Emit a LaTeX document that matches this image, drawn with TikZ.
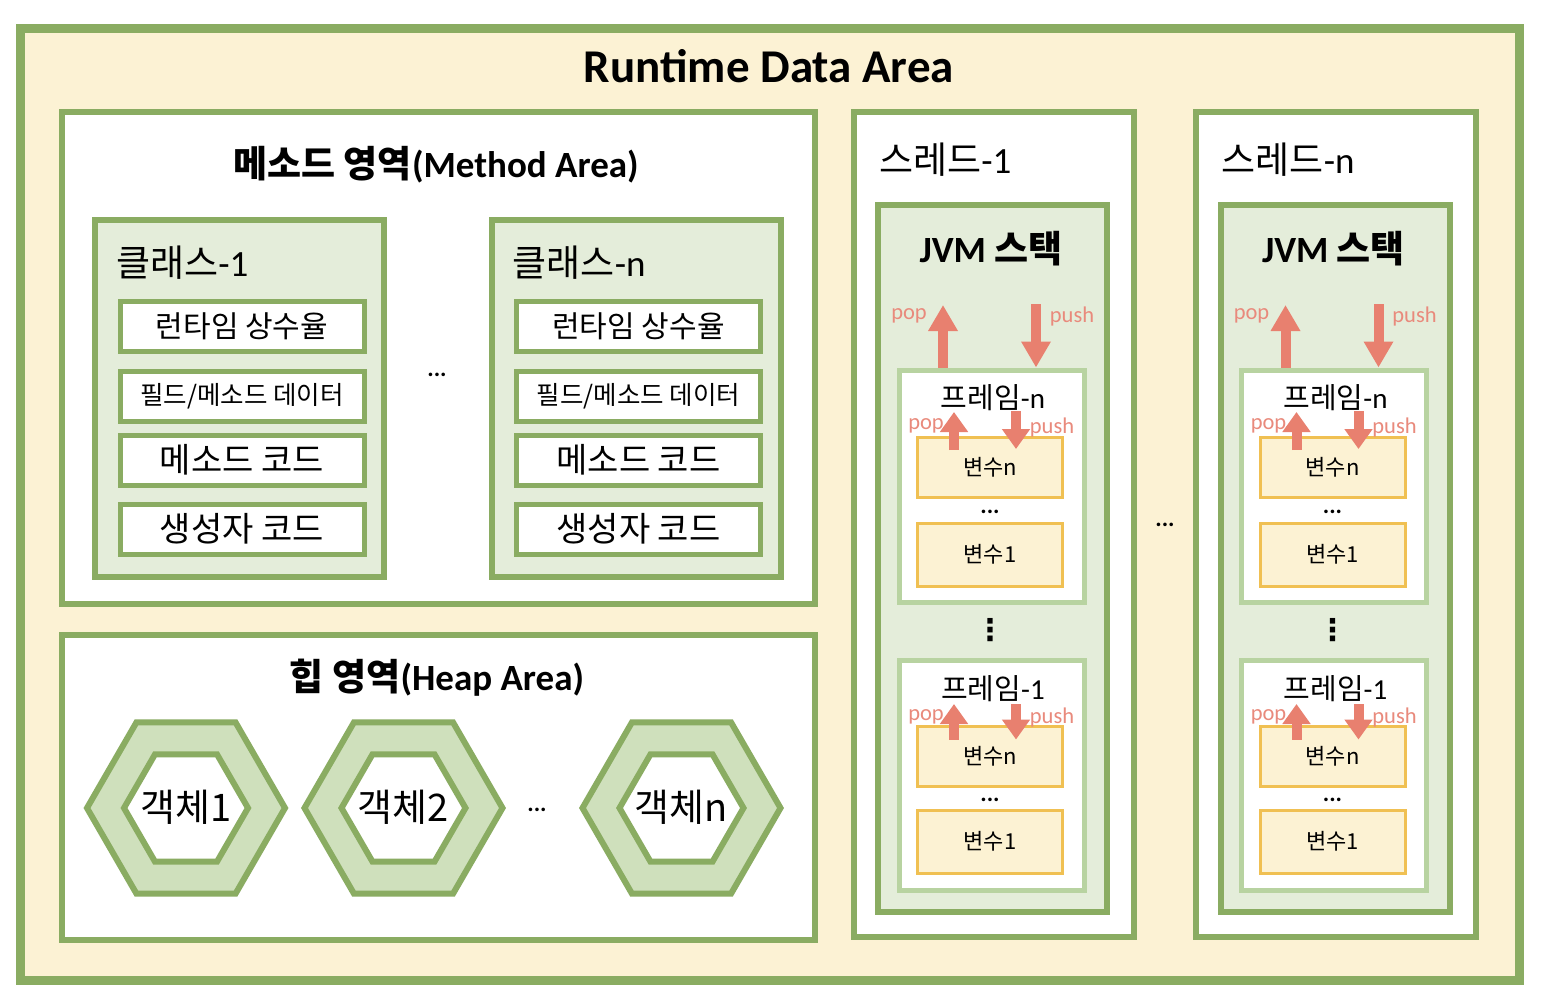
\documentclass[tikz,border=0pt]{standalone}
\usepackage{fontspec}
\setmainfont{Carlito}
\newfontfamily\kr{Noto Sans CJK KR}
\newfontfamily\dv{DejaVu Sans}
\usetikzlibrary{arrows.meta,shapes.geometric}
\definecolor{gb}{HTML}{8AAC62}
\definecolor{cream}{HTML}{FCF2D4}
\definecolor{lgfill}{HTML}{E4EDDA}
\definecolor{lgb}{HTML}{B8D3A1}
\definecolor{varb}{HTML}{F0C052}
\definecolor{varf}{HTML}{FCF2D3}
\definecolor{hexf}{HTML}{CFE0BC}
\definecolor{arr}{HTML}{E8806F}
\definecolor{arrt}{HTML}{E98A7C}
\tikzset{
  rbox/.style={draw=gb, line width=6pt, inner sep=0pt, rectangle},
  whitebox/.style={rbox, fill=white},
  greenbox/.style={rbox, fill=lgfill},
  itembox/.style={draw=gb, line width=5pt, fill=white, inner sep=0pt, minimum width=244pt, minimum height=50pt},
  framebox/.style={draw=lgb, line width=5pt, fill=white, inner sep=0pt, minimum width=185pt},
  varbox/.style={draw=varb, line width=3pt, fill=varf, inner sep=0pt, minimum width=145pt, minimum height=60pt, font=\kr\fontsize{22}{26}\selectfont},
  hexout/.style={regular polygon, regular polygon sides=6, draw=gb, line width=6pt, fill=hexf, minimum size=198pt, inner sep=0pt},
  hexin/.style={regular polygon, regular polygon sides=6, draw=gb, line width=6pt, fill=white, minimum size=124pt, inner sep=0pt},
  hextxt/.style={inner sep=0pt, font=\kr\fontsize{38}{44}\selectfont},
  bigarrow/.style={draw=arr, line width=10pt, -{Triangle[width=28pt,length=26pt]}},
  smallarrow/.style={draw=arr, line width=10pt, -{Triangle[width=27pt,length=20pt]}},
  poptxt/.style={text=arrt, font=\fontsize{22.5}{26}\selectfont, inner sep=0pt},
  dots/.style={font=\bfseries\fontsize{24}{28}\selectfont, inner sep=0pt},
  big/.style={font=\bfseries\fontsize{37}{44}\selectfont},
}
\begin{document}
\begin{tikzpicture}[x=1pt,y=-1pt]
\useasboundingbox (0,0) rectangle (1542,1006);
\fill[white] (0,0) rectangle (1542,1006);
% outer
\node[rbox, line width=9pt, fill=cream, minimum width=1499pt, minimum height=952pt] (outer) at (769.5,504.75) {};
\node[font=\bfseries\fontsize{47}{54}\selectfont] (title) at (769,66) {Runtime Data Area};

% method area
\node[whitebox, minimum width=753pt, minimum height=492pt] (method) at (438.5,358) {};
\node[big] (methodt) at (436,165) {{\kr\bfseries 메소드 영역}(Method Area)};

% class boxes
\foreach \dx/\nm/\lab in {0/c1/1, 396.5/cn/n}{
  \node[greenbox, minimum width=289pt, minimum height=357pt] (\nm) at (239.5+\dx,398.5) {};
  \node[anchor=west, inner sep=0pt, font=\kr\fontsize{37}{44}\selectfont] (\nm t) at (116+\dx,263) {클래스{\rmfamily -\lab}};
  \node[itembox, font=\kr\fontsize{30}{36}\selectfont] (\nm a) at (242+\dx,326) {런타임 상수율};
  \node[itembox, font=\kr\fontsize{25.5}{30}\selectfont] (\nm b) at (242+\dx,396) {필드/메소드 데이터};
  \node[itembox, font=\kr\fontsize{34}{40}\selectfont] (\nm c) at (242+\dx,460) {메소드 코드};
  \node[itembox, font=\kr\fontsize{34}{40}\selectfont] (\nm d) at (242+\dx,529) {생성자 코드};
}
\node[dots] (cdots) at (437,375) {...};

% heap area
\node[whitebox, minimum width=753pt, minimum height=305pt] (heap) at (438.5,787.5) {};
\node[big] (heapt) at (437,678) {{\kr\bfseries 힙 영역}(Heap Area)};
\foreach \cx/\nm/\lab in {186/h1/1, 403.5/h2/2, 681.5/hn/n}{
  \node[hexout] (\nm o) at (\cx,808) {};
  \node[hexin] (\nm i) at (\cx,808) {};
  \node[hextxt] (\nm) at (\cx,807) {객체\lab};
}
\node[dots] (hdots) at (537,810) {...};

% threads
\foreach \dx/\nm/\lab in {0/t1/1, 342.5/tn/n}{
  \node[whitebox, minimum width=280pt, minimum height=825pt] (\nm) at (993.5+\dx,524.5) {};
  \node[anchor=west, inner sep=0pt, font=\kr\fontsize{37}{44}\selectfont] (\nm t) at (879+\dx,160) {스레드{\rmfamily -\lab}};
  \node[greenbox, minimum width=229pt, minimum height=707pt] (\nm s) at (992.5+\dx,558.5) {};
  \node[big] (\nm st) at (991+\dx,249) {JVM {\kr\bfseries 스택}};
  % frame n
  \node[framebox, minimum height=232pt] (\nm fn) at (991.5+\dx,486) {};
  \node[font=\kr\fontsize{29}{34}\selectfont, inner sep=0pt] (\nm fnt) at (993+\dx,398) {프레임{\rmfamily -n}};
  \node[varbox] (\nm fnvn) at (990+\dx,467.5) {변수n};
  \node[varbox, minimum height=63pt] (\nm fnv1) at (990+\dx,554.5) {변수1};
  \node[dots] (\nm fnd) at (990+\dx,512) {...};
  % frame 1
  \node[framebox, minimum height=230pt] (\nm f1) at (991.5+\dx,775) {};
  \node[font=\kr\fontsize{29}{34}\selectfont, inner sep=0pt] (\nm f1t) at (993+\dx,689) {프레임{\rmfamily -1}};
  \node[varbox] (\nm f1vn) at (990+\dx,756) {변수n};
  \node[varbox, minimum height=63pt] (\nm f1v1) at (990+\dx,841.5) {변수1};
  \node[dots] (\nm f1d) at (990+\dx,800) {...};
  \node[font=\dv\bfseries\fontsize{30}{34}\selectfont, inner sep=0pt] (\nm vd) at (990+\dx,630) {⋮};
  % big arrows
  \coordinate (\nm pa) at (943+\dx,305);
  \coordinate (\nm pb) at (1036+\dx,304);
  \draw[bigarrow] (\nm fn.north -| \nm pa) -- (\nm pa);
  \draw[bigarrow] (\nm pb) -- (\nm fn.north -| \nm pb);
  \node[poptxt] (\nm popt) at (909+\dx,316) {pop};
  \node[poptxt] (\nm pusht) at (1072+\dx,316) {push};
  % small arrows frame n
  \coordinate (\nm sa) at (954+\dx,412);
  \coordinate (\nm sb) at (1016+\dx,411);
  \draw[smallarrow] (\nm fnvn.north -| \nm sa) ++(0,14) -- (\nm sa);
  \draw[smallarrow] (\nm sb) -- ([yshift=-13pt]\nm fnvn.north -| \nm sb);
  \node[poptxt] (\nm spopt) at (926+\dx,426) {pop};
  \node[poptxt] (\nm spusht) at (1052+\dx,427) {push};
  % small arrows frame 1
  \coordinate (\nm sc) at (954+\dx,704);
  \coordinate (\nm sd) at (1016+\dx,704);
  \draw[smallarrow] (\nm f1vn.north -| \nm sc) ++(0,15) -- (\nm sc);
  \draw[smallarrow] (\nm sd) -- ([yshift=-15pt]\nm f1vn.north -| \nm sd);
  \node[poptxt] (\nm s1popt) at (926+\dx,717) {pop};
  \node[poptxt] (\nm s1pusht) at (1052+\dx,717) {push};
}
\node[dots] (tdots) at (1165,525) {...};
\end{tikzpicture}
\end{document}
